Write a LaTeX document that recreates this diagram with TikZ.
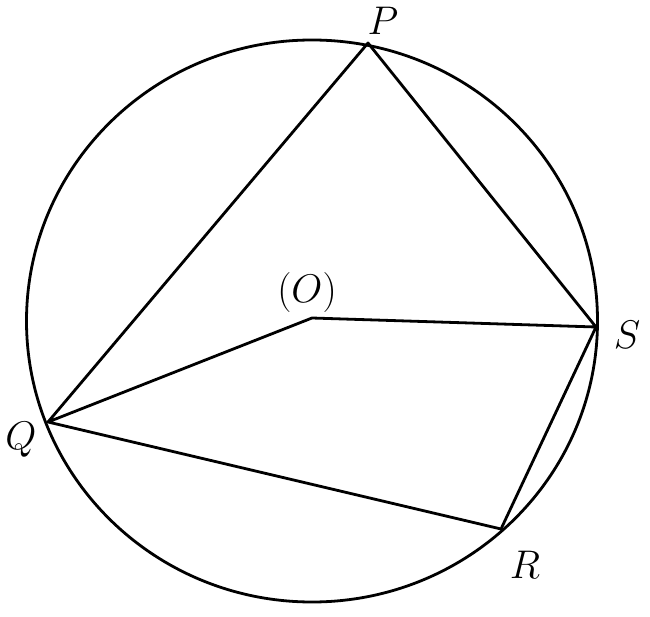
\RequirePackage{fix-cm}
\documentclass[tikz,border=0pt]{standalone}
\begin{document}
\begin{tikzpicture}[x=1pt,y=-1pt,
  geo/.style={line width=2.8pt,line join=round},
  lbl/.style={inner sep=0pt,font=\fontsize{40}{48}\selectfont}]
\useasboundingbox (0,0) rectangle (650,617);
\coordinate (C) at (312,321);
\coordinate (P) at (368,43);
\coordinate (Q) at (48,422);
\coordinate (R) at (501,529);
\coordinate (S) at (596,327);
\coordinate (O) at (312,318);
\draw[geo] (C) ellipse [x radius=285.5pt, y radius=281pt];
\draw[geo] (Q) -- (P) -- (S) -- (R) -- (Q) -- (O) -- (S);
\node[lbl] (lP) at (383,21) {$P$};
\node[lbl] (lS) at (627,335) {$S$};
\node[lbl] (lQ) at (21,440) {$Q$};
\node[lbl] (lR) at (525,565) {$R$};
\node[lbl] (lO) at (307,293) {$(O)$};
\end{tikzpicture}
\end{document}
